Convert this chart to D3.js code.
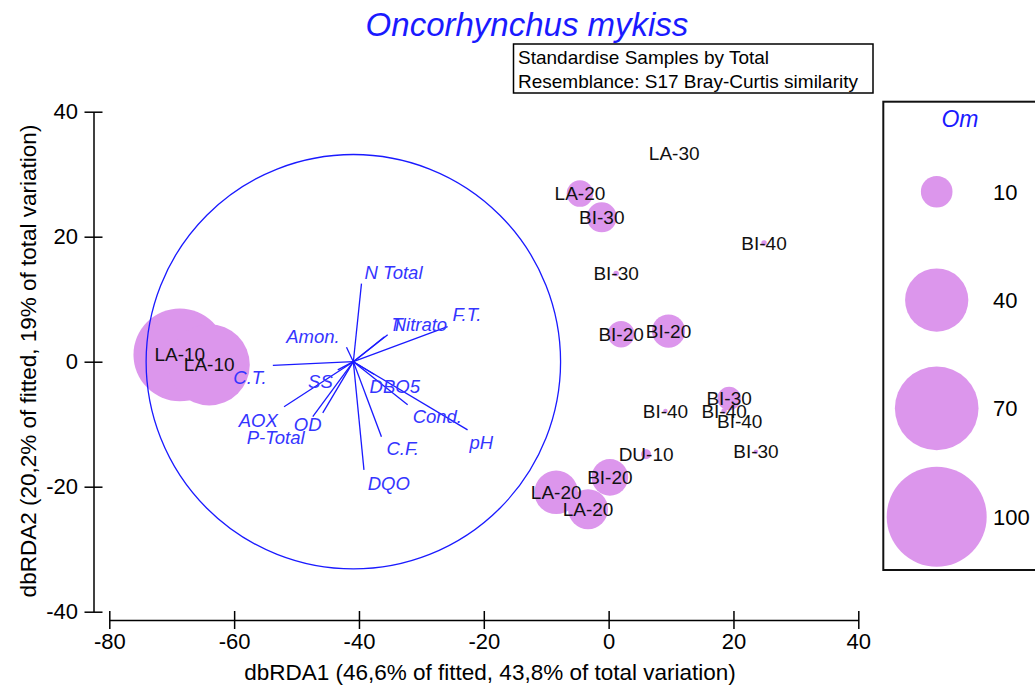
<!DOCTYPE html>
<html>
<head>
<meta charset="utf-8">
<script src="https://cdn.jsdelivr.net/npm/d3@7"></script>
<style>
  body { margin: 0; background: #fff; }
  svg { display: block; font-family: "Liberation Sans", Arial, sans-serif; }
</style>
</head>
<body>
<div class="chart"></div>
<script>
const width = 1035, height = 687;

// samples: names, dbRDA coordinates, bubble variable (Om)
const sampleNames = ["LA-10", "LA-10", "LA-30", "LA-20", "BI-30", "BI-40", "BI-30", "BI-20", "BI-20",
  "BI-30", "BI-40", "BI-40", "BI-40", "BI-30", "DU-10", "BI-20", "LA-20", "LA-20"];
const dbRDA1 = [-68.7, -64.0, 10.5, -4.6, -1.1, 24.9, 1.2, 2.0, 9.6,
  19.3, 9.1, 18.5, 21.0, 23.6, 6.0, 0.2, -8.4, -3.3];
const dbRDA2 = [1.1, -0.5, 33.4, 26.9, 23.1, 19.0, 14.1, 4.4, 4.9,
  -5.9, -7.9, -7.9, -9.6, -14.4, -14.8, -18.5, -20.9, -23.6];
const om = [86, 66, 0, 7, 9, 0.3, 0.3, 7, 11, 5.5, 0.2, 0.3, 0, 0.2, 1, 13.4, 19, 16];

// predictor vectors (end points) and their label anchors
const vectorNames = ["N Total", "T.", "Nitrato", "F.T.", "Amon.", "C.T.", "SS", "AOX", "OD",
  "P-Total", "DQO", "C.F.", "Cond.", "pH", "DBO5"];
const vectorX = [-39.6, -35.9, -35.4, -25.8, -42.0, -53.8, -43.4, -52.0, -45.8, -47.4, -39.2, -36.4, -32.2, -22.6, -37.6];
const vectorY = [12.5, 4.0, 4.3, 5.6, 2.3, -0.6, -1.3, -7.2, -8.2, -8.8, -17.3, -12.0, -6.9, -10.9, -2.0];
const labelX = [-39.1, -34.8, -34.6, -25.0, -43.1, -54.8, -44.2, -53.0, -46.0, -48.7, -38.6, -35.6, -31.4, -22.3, -38.3];
const labelY = [13.2, 4.9, 4.9, 6.5, 3.0, -3.6, -4.2, -10.5, -11.1, -13.2, -20.5, -14.9, -9.8, -14.0, -5.0];
const circleCentre = [-40.9, 0];
const circleRadius = 33.2;

const xTicks = [-80, -60, -40, -20, 0, 20, 40];
const yTicks = [-40, -20, 0, 20, 40];
const legendValues = [10, 40, 70, 100];

const bubbleFill = "#dc96ec";
const blue = "#1a1aff";

const svg = d3.select(".chart").append("svg")
  .attr("width", width)
  .attr("height", height);

const x = d3.scaleLinear().domain([-80, 40]).range([109.3, 858.3]);
const y = d3.scaleLinear().domain([-40, 40]).range([611.7, 111.7]);
const r = d3.scaleSqrt().domain([0, 100]).range([0, 50]);
const unit = x(1) - x(0);

// axes (plain hyphen for negatives, ticks crossing the line)
const xAxis = svg.append("g")
  .attr("transform", "translate(0,620)")
  .call(d3.axisBottom(x).tickValues(xTicks).tickFormat(d => String(d))
    .tickSize(9).tickPadding(4).tickSizeOuter(0));
xAxis.selectAll(".tick line").attr("y1", -9);
const yAxis = svg.append("g")
  .attr("transform", "translate(93.5,0)")
  .call(d3.axisLeft(y).tickValues(yTicks).tickFormat(d => String(d))
    .tickSize(9).tickPadding(6.5).tickSizeOuter(0));
yAxis.selectAll(".tick line").attr("x1", 9);
svg.selectAll(".domain, .tick line").attr("stroke", "#000").attr("stroke-width", 1.5);
svg.selectAll(".tick text")
  .attr("fill", "#000")
  .style("font-size", "22px")
  .style("font-family", "'Liberation Sans', Arial, sans-serif");

svg.append("text")
  .attr("x", 490).attr("y", 680)
  .attr("text-anchor", "middle")
  .style("font-size", "22.5px")
  .text("dbRDA1 (46,6% of fitted, 43,8% of total variation)");
svg.append("text")
  .attr("transform", "translate(36,361) rotate(-90)")
  .attr("text-anchor", "middle")
  .style("font-size", "22.5px")
  .text("dbRDA2 (20,2% of fitted, 19% of total variation)");

// title and info box
svg.append("text")
  .attr("x", 527).attr("y", 36)
  .attr("text-anchor", "middle")
  .attr("fill", blue)
  .style("font-size", "33px")
  .style("font-style", "italic")
  .text("Oncorhynchus mykiss");
svg.append("rect")
  .attr("x", 513.5).attr("y", 44).attr("width", 359.5).attr("height", 49)
  .attr("fill", "none").attr("stroke", "#000").attr("stroke-width", 1.5);
svg.selectAll(".info").data(["Standardise Samples by Total", "Resemblance: S17 Bray-Curtis similarity"])
  .join("text")
  .attr("class", "info")
  .attr("x", 518).attr("y", (d, i) => 64 + i * 24)
  .style("font-size", "19px")
  .text(d => d);

// bubbles
const samples = sampleNames.map((name, i) => ({ name, x: dbRDA1[i], y: dbRDA2[i], om: om[i] }));
svg.append("g").selectAll("circle")
  .data(samples.filter(d => d.om > 0))
  .join("circle")
  .attr("cx", d => x(d.x))
  .attr("cy", d => y(d.y))
  .attr("r", d => r(d.om))
  .attr("fill", bubbleFill);

// vector circle
svg.append("circle")
  .attr("cx", x(circleCentre[0]))
  .attr("cy", y(circleCentre[1]))
  .attr("r", circleRadius * unit)
  .attr("fill", "none")
  .attr("stroke", blue)
  .attr("stroke-width", 1.3);

// vectors
const vectors = vectorNames.map((name, i) => ({
  name, x: vectorX[i], y: vectorY[i], lx: labelX[i], ly: labelY[i]
}));
svg.append("g").selectAll("line")
  .data(vectors)
  .join("line")
  .attr("x1", x(circleCentre[0]))
  .attr("y1", y(circleCentre[1]))
  .attr("x2", d => x(d.x))
  .attr("y2", d => y(d.y))
  .attr("stroke", blue)
  .attr("stroke-width", 1.3);
svg.append("g").selectAll("text")
  .data(vectors)
  .join("text")
  .attr("x", d => x(d.lx))
  .attr("y", d => y(d.ly))
  .attr("text-anchor", d => d.lx < circleCentre[0] ? "end" : "start")
  .attr("fill", "#3535ff")
  .style("font-size", "18.5px")
  .style("font-style", "italic")
  .text(d => d.name);

// sample labels
svg.append("g").selectAll("text")
  .data(samples)
  .join("text")
  .attr("x", d => x(d.x))
  .attr("y", d => y(d.y))
  .attr("dy", "0.35em")
  .attr("text-anchor", "middle")
  .attr("fill", "#111")
  .style("font-size", "19px")
  .text(d => d.name);

// legend
const legend = svg.append("g");
legend.append("rect")
  .attr("x", 883.3).attr("y", 101.7).attr("width", 170).attr("height", 468.3)
  .attr("fill", "none").attr("stroke", "#111").attr("stroke-width", 2);
legend.append("text")
  .attr("x", 960).attr("y", 126.5)
  .attr("text-anchor", "middle")
  .attr("fill", blue)
  .style("font-size", "23px")
  .style("font-style", "italic")
  .text("Om");
const legendY = d3.scalePoint().domain(legendValues).range([191.7, 516.7]);
legend.selectAll("circle")
  .data(legendValues)
  .join("circle")
  .attr("cx", 936.7)
  .attr("cy", d => legendY(d))
  .attr("r", d => r(d))
  .attr("fill", bubbleFill);
legend.selectAll(".lab")
  .data(legendValues)
  .join("text")
  .attr("class", "lab")
  .attr("x", 993)
  .attr("y", d => legendY(d))
  .attr("dy", "0.36em")
  .style("font-size", "22px")
  .text(d => d);
</script>
</body>
</html>
